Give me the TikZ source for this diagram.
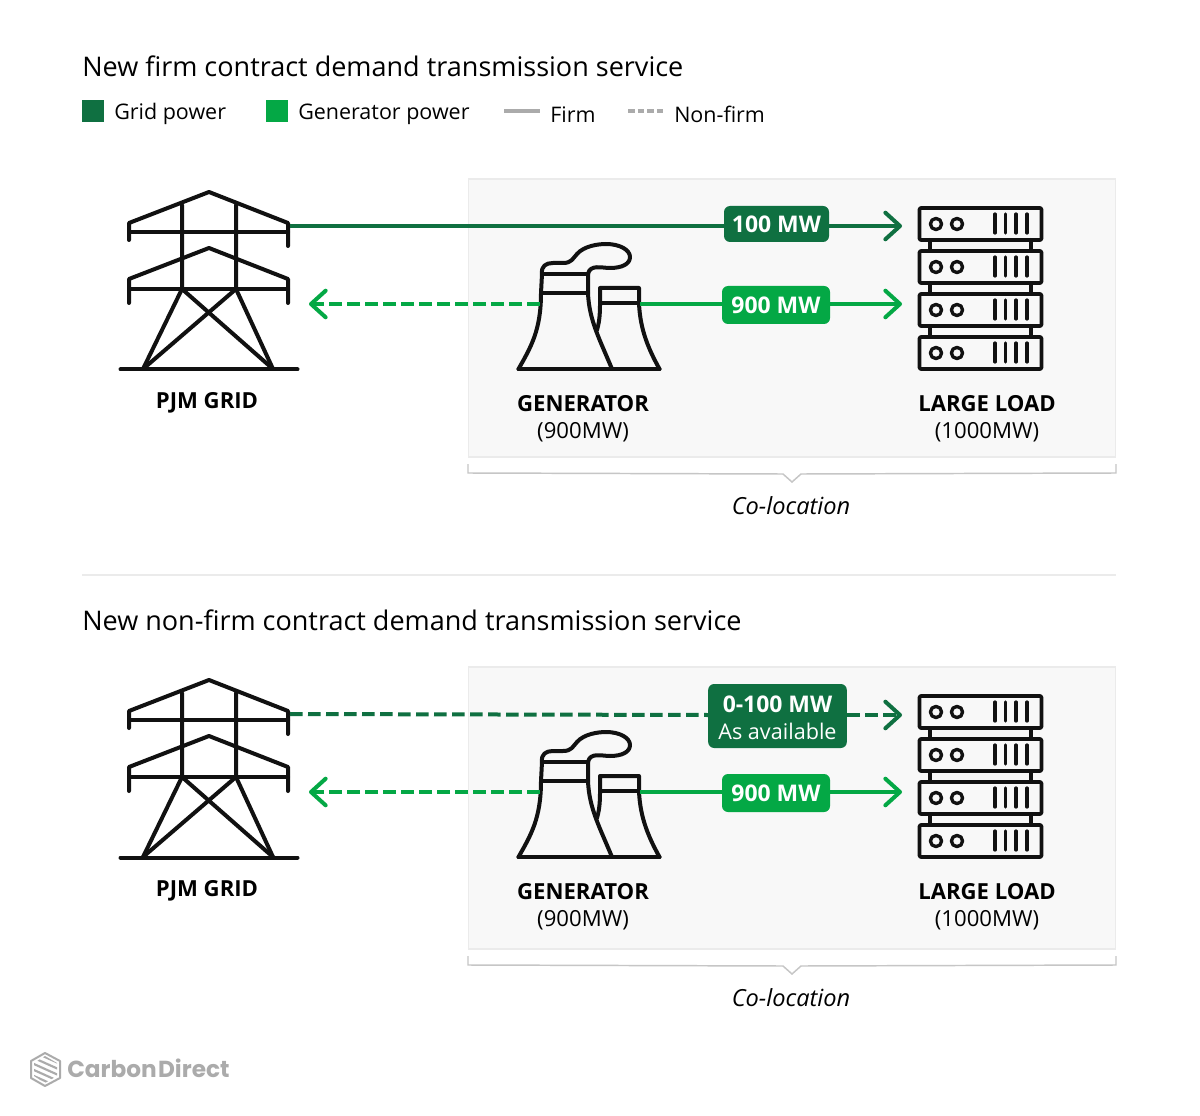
\documentclass[tikz,border=0pt]{standalone}
\usepackage{fontspec}
\setmainfont{Open Sans}
\newfontfamily\logofont{Poppins}
\usetikzlibrary{positioning,arrows.meta,calc}

\definecolor{gridgreen}{HTML}{0F7041}
\definecolor{gengreen}{HTML}{04A845}
\definecolor{panelgrey}{HTML}{F8F8F8}
\definecolor{panelline}{HTML}{EBEBEB}
\definecolor{legendgrey}{HTML}{ABABAB}
\definecolor{bracegrey}{HTML}{C6C6C6}
\definecolor{iconblack}{HTML}{111111}

\tikzset{
  icon/.style={draw=iconblack, line width=3pt, line join=round, line cap=round},
  tower/.pic={
    \draw[icon] (129,240) -- (129,223) -- (209,192) -- (288,223) -- (288,246);
    \draw[icon] (129,232) -- (288,232);
    \draw[icon] (129,303) -- (129,279) -- (209,248) -- (288,279) -- (288,303);
    \draw[icon] (129,289) -- (288,289);
    \draw[icon] (182,205) -- (182,289) -- (143,369);
    \draw[icon] (236,205) -- (236,289) -- (273,369);
    \draw[icon] (182,289) -- (273,369);
    \draw[icon] (236,289) -- (143,369);
    \draw[icon] (120.5,369.5) -- (297.5,369.5);
    \coordinate (-out) at (290,226);
    \coordinate (-in) at (309,304);
  },
  plant/.pic={
    \draw[icon] (518.5,369) -- (659.5,369);
    \draw[icon] (518.5,369) .. controls (531,347) and (541,330) .. (541,293) -- (542,274);
    \draw[icon] (542,274) .. controls (541,266) and (546,263) .. (553,263)
      -- (563,263) .. controls (572,263) and (573,258) .. (577,254)
      .. controls (584,246) and (598,244) .. (606,244)
      .. controls (620,244) and (630,250) .. (630,257)
      .. controls (630,264) and (622,268) .. (610,268)
      .. controls (602,268) and (590,264) .. (588,274);
    \draw[icon] (542,274) -- (588,274);
    \draw[icon] (541,293) -- (588,293);
    \draw[icon] (588,274) -- (588,293) .. controls (589,320) and (600,340) .. (612,369);
    \draw[icon] (597,330) .. controls (600,320) and (600,310) .. (600,303) -- (600,288)
      -- (639,288) -- (639,303) .. controls (640,330) and (649,350) .. (659.5,369);
    \draw[icon] (600,303) -- (639,303);
    \coordinate (-left) at (540,304);
    \coordinate (-right) at (640,304);
  },
  rack/.pic={
    \foreach \dy in {0,43,86,129} {
      \draw[icon, line width=2.8pt, rounded corners=1pt] (919.5,208+\dy) rectangle (1041.5,240+\dy);
      \draw[icon, line width=2.5pt] (936,224+\dy) circle (4.2pt) (957,224+\dy) circle (4.2pt);
      \foreach \bx in {995,1005.5,1016,1027}
        \draw[icon, line width=2.4pt] (\bx,214+\dy) -- (\bx,233+\dy);
    }
    \foreach \dy in {0,43,86} {
      \draw[icon] (930,240+\dy) -- (930,250+\dy);
      \draw[icon] (1031,240+\dy) -- (1031,250+\dy);
    }
    \coordinate (-top) at (902,226);
    \coordinate (-mid) at (902,304);
  }
}

\begin{document}
\begin{tikzpicture}[
  x=0.75pt, y=-0.75pt,
  headtext/.style={anchor=base west, inner sep=0pt, font=\fontsize{20.27}{24}\selectfont},
  keytext/.style={anchor=base west, inner sep=0pt, font=\fontsize{16.1}{20}\selectfont},
  panel/.style={draw=panelline, line width=1pt, fill=panelgrey},
  bracket/.style={draw=bracegrey, line width=1.1pt},
  iconname/.style={align=center, inner sep=0pt, font=\fontsize{16.6}{20.5}\selectfont},
  coloc/.style={inner sep=0pt, font=\fontsize{17.7}{20}\selectfont\itshape},
  pill/.style={rounded corners=4.5pt, inner sep=0pt, text=white, align=center,
    font=\fontsize{17.2}{20}\selectfont\bfseries},
  onepill/.style={pill, text height=13.5pt},
  flow/.style={line width=3pt},
  chev/.style={-{Straight Barb[round, length=11pt, width=20pt]}},
  flowdash/.style={dash pattern=on 9.5pt off 4pt}
]
  \useasboundingbox (0,0) rectangle (1200,1116);
  \fill[white] (0,0) rectangle (1200,1116);

  % Top heading and legend
  \node[headtext] (titleA) at (82,77) {New firm contract demand transmission service};
  \node[fill=gridgreen, minimum size=16.5pt, inner sep=0pt] (keyGrid) at (93,111) {};
  \node[keytext] (txtGrid) at (114,119.5) {Grid power};
  \node[fill=gengreen, minimum size=16.5pt, inner sep=0pt] (keyGen) at (277,111) {};
  \node[keytext] (txtGen) at (298,119.5) {Generator power};
  \coordinate (firmA) at (504,111); \coordinate (firmB) at (540,111);
  \draw[legendgrey, line width=3pt] (firmA) -- (firmB);
  \node[keytext] (txtFirm) at (550,122.5) {Firm};
  \coordinate (nonfA) at (628,111); \coordinate (nonfB) at (664,111);
  \draw[legendgrey, line width=3pt, dash pattern=on 5pt off 2.2pt] (nonfA) -- (nonfB);
  \node[keytext] (txtNon) at (674,122.5) {Non-firm};

  % Top case
  \draw[panel] (468.5,179) rectangle (1115.5,457);
  \pic (gridA) at (0,0) {tower};
  \pic (genA) at (0,0) {plant};
  \pic (loadA) at (0,0) {rack};
  \node[iconname, font=\fontsize{16.6}{20.5}\selectfont\bfseries] (lblGridA) at (207,403) {PJM GRID};
  \node[iconname] (lblGenA) at (583,418.5) {\textbf{GENERATOR}\\(900MW)};
  \node[iconname] (lblLoadA) at (987,418.5) {\textbf{LARGE LOAD}\\(1000MW)};

  \node[onepill, fill=gridgreen, minimum width=78.75pt, minimum height=27pt] (pillA) at (776.5,224) {100 MW};
  \node[onepill, fill=gengreen, minimum width=81pt, minimum height=28.5pt] (pillB) at (776,305) {900 MW};
  \draw[flow, gridgreen] (gridA-out) -- (pillA.west |- gridA-out);
  \draw[flow, gridgreen, chev] (pillA.east |- loadA-top) -- (loadA-top);
  \draw[flow, gengreen, flowdash, chev] (genA-left) -- (gridA-in);
  \draw[flow, gengreen] (genA-right) -- (pillB.west |- genA-right);
  \draw[flow, gengreen, chev] (pillB.east |- loadA-mid) -- (loadA-mid);

  \draw[bracket] (468,464) -- (468,473) -- (783,474) -- (792,482) -- (801,474) -- (1116,473) -- (1116,464);
  \node[coloc] (colocA) at (791,506) {Co-location};

  % Divider
  \coordinate (divA) at (82,575); \coordinate (divB) at (1116,575);
  \draw[panelline, line width=1.3pt] (divA) -- (divB);

  % Bottom case
  \node[headtext] (titleB) at (82,630.5) {New non-firm contract demand transmission service};
  \draw[panel] (468.5,667) rectangle (1115.5,949);
  \pic (gridB) at (0,488) {tower};
  \pic (genB) at (0,488) {plant};
  \pic (loadB) at (0,488) {rack};
  \node[iconname, font=\fontsize{16.6}{20.5}\selectfont\bfseries] (lblGridB) at (207,891) {PJM GRID};
  \node[iconname] (lblGenB) at (583,906.5) {\textbf{GENERATOR}\\(900MW)};
  \node[iconname] (lblLoadB) at (987,906.5) {\textbf{LARGE LOAD}\\(1000MW)};

  \node[pill, fill=gridgreen, minimum width=104pt, minimum height=48pt] (pillC) at (777.5,716)
    {\rule{0pt}{15.5pt}0-100 MW\\[0pt]{\mdseries\fontsize{16.2}{20}\selectfont As available}};
  \node[onepill, fill=gengreen, minimum width=81pt, minimum height=28.5pt] (pillD) at (776,793) {900 MW};
  \coordinate (dashTo) at ($(loadB-top)+(0,1)$);
  \draw[flow, gridgreen, flowdash] (gridB-out) -- (pillC.west |- dashTo);
  \draw[flow, gridgreen, flowdash, chev] (pillC.east |- dashTo) -- (dashTo);
  \draw[flow, gengreen, flowdash, chev] (genB-left) -- (gridB-in);
  \draw[flow, gengreen] (genB-right) -- (pillD.west |- genB-right);
  \draw[flow, gengreen, chev] (pillD.east |- loadB-mid) -- (loadB-mid);

  \draw[bracket] (468,956) -- (468,965) -- (783,966) -- (792,974) -- (801,966) -- (1116,965) -- (1116,956);
  \node[coloc] (colocB) at (791,998) {Co-location};

  % Logo
  \draw[legendgrey, line width=1.5pt, line join=round]
    (45,1053) -- (60,1061) -- (60,1078) -- (45,1086) -- (31,1078) -- (31,1061) -- cycle;
  \begin{scope}[legendgrey, line width=1.6pt]
    \clip (45,1056) -- (57,1063) -- (57,1076) -- (45,1083) -- (34,1076) -- (34,1063) -- cycle;
    \foreach \s in {-12,-6,0,6,12}
      \draw (25,1060+\s) -- (65,1078+\s);
  \end{scope}
  \node[anchor=base west, inner sep=0pt, text=legendgrey, font=\logofont\fontsize{17.4}{20}\selectfont\bfseries] (logoTxt) at (67,1077) {Carbon\hspace{1pt}Direct};
\end{tikzpicture}
\end{document}
